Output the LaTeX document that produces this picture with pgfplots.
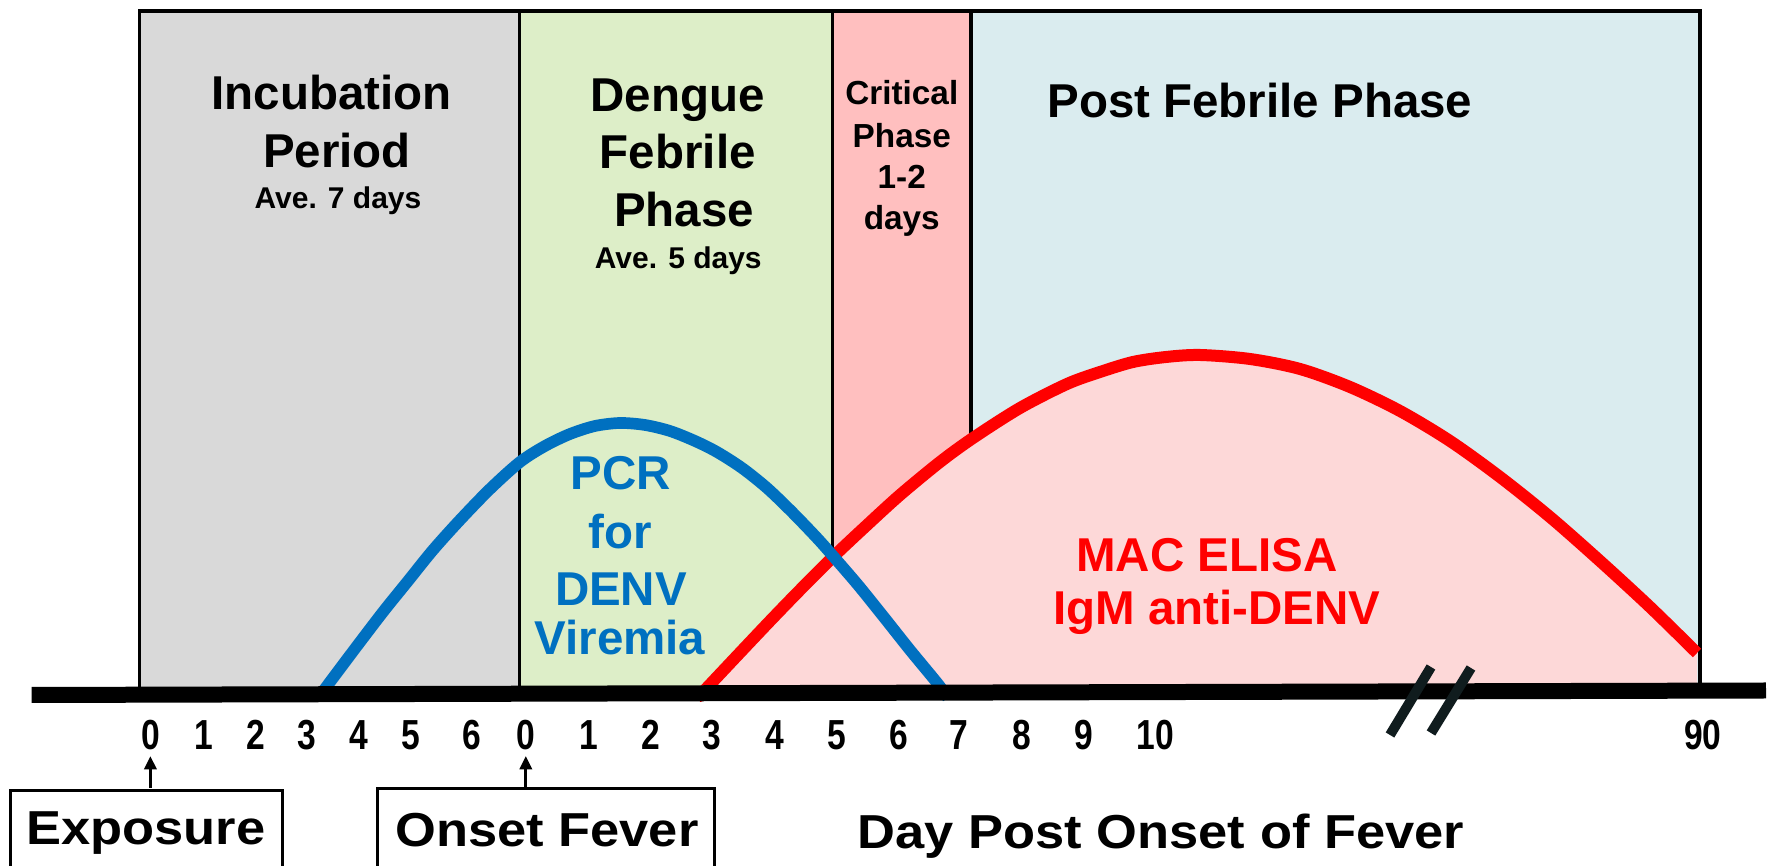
\documentclass[border=0pt]{standalone}
\usepackage{pgfplots}
\pgfplotsset{compat=1.18}
\usetikzlibrary{arrows.meta}
\usepackage{fontspec}
\setmainfont{Liberation Sans}
\newfontfamily\narrowsans[FakeStretch=0.8]{Liberation Sans}
\newfontfamily\widesans[FakeStretch=1.1]{Liberation Sans}
\definecolor{boxgray}{RGB}{217,217,217}
\definecolor{boxgreen}{RGB}{221,238,200}
\definecolor{boxpink}{RGB}{255,191,191}
\definecolor{boxblue}{RGB}{218,236,239}
\definecolor{pcrblue}{RGB}{0,112,192}
\definecolor{igmfill}{RGB}{253,216,216}
\definecolor{breakcol}{RGB}{16,28,30}
\newcommand\bigf{\bfseries\fontsize{14.25}{17}\selectfont}
\newcommand\avef{\bfseries\fontsize{9}{11}\selectfont}
\newcommand\critf{\bfseries\fontsize{10}{12}\selectfont}
\newcommand\botf{\widesans\bfseries\fontsize{14.3}{17}\selectfont}
\pgfplotstableread{
x y
699 -4
703 0
735 34
770 71
800 102
833 135
866 166
900 197
940 230
973 254
1020 284
1067 308
1100 320
1133 330
1166 335
1200 337
1250 333
1300 323
1350 305
1400 281
1450 251
1500 215
1550 175
1600 131
1650 85
1697 39
}\igmdata
\pgfplotstableread{
x y
321 -2
354 42
383 80
408 111
433 142
460 172
490 203
520 230
545 246
570 258
595 266
620 269
645 267
670 261
695 251
717 240
742 224
767 204
792 180
817 154
833 136
858 107
883 76
910 42
938 8
948 -6
}\pcrdata
\begin{document}
\begin{tikzpicture}
\begin{axis}[
  x=0.3pt, y=0.3pt,
  xmin=0, xmax=1771, ymin=-174, ymax=692,
  axis x line=middle, axis y line=none,
  x axis line style={draw=none},
  xtick={150.4,203.8,255.5,307,358.8,410.5,471.9,525.8,588.4,650.4,711.8,775,837,898.5,958.7,1021.5,1083.8,1155.4,1702.9},
  xticklabels={0,1,2,3,4,5,6,0,1,2,3,4,5,6,7,8,9,10,90},
  major tick length=0pt,
  xtick style={draw=none},
  xticklabel style={anchor=base, yshift=-17.4pt, inner sep=0pt,
    font=\narrowsans\bfseries\fontsize{12.6}{14}\selectfont},
  clip=false,
]
% phase boxes
\addplot[draw=black, line width=1.1pt, fill=boxgray] coordinates {(139.5,0)(139.5,681)(519.5,681)(519.5,0)} --cycle;
\addplot[draw=black, line width=1.1pt, fill=boxgreen] coordinates {(519.5,0)(519.5,681)(832.5,681)(832.5,0)} --cycle;
\addplot[draw=black, line width=1.1pt, fill=boxpink] coordinates {(832.5,0)(832.5,681)(971,681)(971,0)} --cycle;
\addplot[draw=black, line width=1.1pt, fill=boxblue] coordinates {(971,0)(971,681)(1700,681)(1700,0)} --cycle;
% IgM area
\addplot[fill=igmfill, draw=none, smooth] table[x=x,y=y] {\igmdata} \closedcycle;
\addplot[draw=black, line width=1.1pt] coordinates {(1700,0)(1700,681)};
\addplot[red, line width=3.6pt, smooth] table[x=x,y=y] {\igmdata};
% PCR viremia
\addplot[pcrblue, line width=3.5pt, smooth] table[x=x,y=y] {\pcrdata};
% time axis
\addplot[black, line width=4.8pt] coordinates {(31.6,-3)(1766,1.5)};
\addplot[breakcol, line width=3pt] coordinates {(1431,25)(1390,-43)};
\addplot[breakcol, line width=3pt] coordinates {(1471,24)(1431,-41)};
% arrows and boxes below
\addplot[black, line width=1pt, -{Triangle[width=3.6pt,length=4pt]}] coordinates {(150.4,-96)(150.4,-64)};
\addplot[black, line width=1pt, -{Triangle[width=3.6pt,length=4pt]}] coordinates {(525.8,-96)(525.8,-64)};
\addplot[black, line width=0.9pt] coordinates {(10.3,-180)(10.3,-98.7)(282.4,-98.7)(282.4,-180)};
\addplot[black, line width=0.9pt] coordinates {(377,-180)(377,-97)(714.7,-97)(714.7,-180)};
% texts
\node[anchor=base, inner sep=0pt, font=\bigf] at (axis cs:331.7,582) {Incubation};
\node[anchor=base, inner sep=0pt, font=\bigf] at (axis cs:337,524.3) {Period};
\node[anchor=base, inner sep=0pt, font=\avef] at (axis cs:338,483.7) {Ave. 7 days};
\node[anchor=base, inner sep=0pt, font=\bigf] at (axis cs:677.5,580.3) {Dengue};
\node[anchor=base, inner sep=0pt, font=\bigf] at (axis cs:677.8,523.7) {Febrile};
\node[anchor=base, inner sep=0pt, font=\bigf] at (axis cs:684,465.3) {Phase};
\node[anchor=base, inner sep=0pt, font=\avef] at (axis cs:678.3,423.7) {Ave. 5 days};
\node[anchor=base, inner sep=0pt, font=\critf] at (axis cs:901.8,587) {Critical};
\node[anchor=base, inner sep=0pt, font=\critf] at (axis cs:901.8,544.7) {Phase};
\node[anchor=base, inner sep=0pt, font=\critf] at (axis cs:901.8,503.7) {1-2};
\node[anchor=base, inner sep=0pt, font=\critf] at (axis cs:901.8,462) {days};
\node[anchor=base west, inner sep=0pt, font=\bigf] at (axis cs:1046.7,574.3) {Post Febrile Phase};
\node[anchor=base, inner sep=0pt, font=\bigf, text=pcrblue] at (axis cs:620.7,202) {PCR};
\node[anchor=base, inner sep=0pt, font=\bigf, text=pcrblue] at (axis cs:620,143.7) {for};
\node[anchor=base, inner sep=0pt, font=\bigf, text=pcrblue] at (axis cs:621,86.3) {DENV};
\node[anchor=base, inner sep=0pt, font=\bigf, text=pcrblue] at (axis cs:620,37) {Viremia};
\node[anchor=base, inner sep=0pt, font=\bigf, text=red] at (axis cs:1207,120) {MAC ELISA};
\node[anchor=base, inner sep=0pt, font=\bigf, text=red] at (axis cs:1216.7,67) {IgM anti-DENV};
\node[anchor=base, inner sep=0pt, font=\botf] at (axis cs:146,-153) {Exposure};
\node[anchor=base, inner sep=0pt, font=\botf] at (axis cs:547,-154.7) {Onset Fever};
\node[anchor=base, inner sep=0pt, font=\botf] at (axis cs:1161,-156.3) {Day Post Onset of Fever};
\coordinate (BL) at (axis cs:0,-174);
\coordinate (TR) at (axis cs:1771,692);
\end{axis}
\pgfresetboundingbox
\path[use as bounding box] (BL) rectangle (TR);
\end{tikzpicture}
\end{document}
